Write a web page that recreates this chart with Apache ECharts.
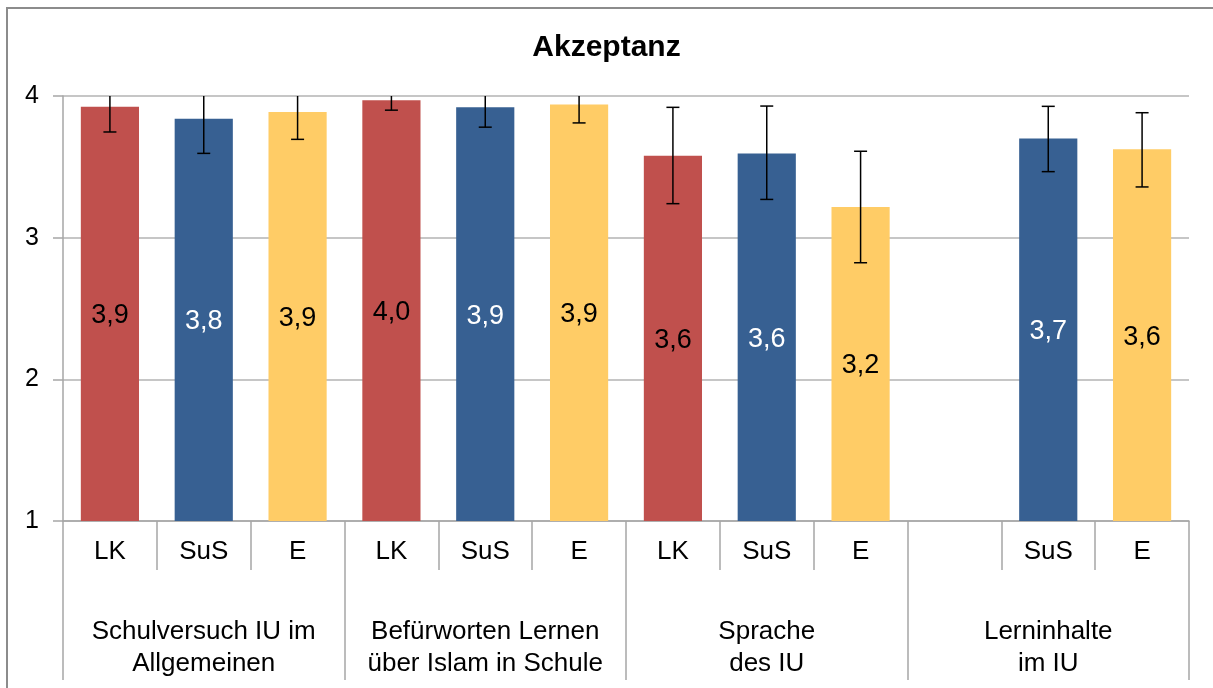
<!DOCTYPE html>
<html>
<head>
<meta charset="utf-8">
<script src="https://cdn.jsdelivr.net/npm/echarts@6/dist/echarts.min.js"></script>
<style>
html,body{margin:0;padding:0;background:#fff;}
#chart{width:1213px;height:688px;}
</style>
</head>
<body>
<div id="chart"></div>
<script>
// ---- data ----
var categories = ['LK','SuS','E','LK','SuS','E','LK','SuS','E','','SuS','E'];
var groups = ['Schulversuch IU im\nAllgemeinen', 'Befürworten Lernen\nüber Islam in Schule', 'Sprache\ndes IU', 'Lerninhalte\nim IU'];
var values  = [3.925, 3.84, 3.887, 3.97, 3.92, 3.94, 3.579, 3.595, 3.217, null, 3.70, 3.624];
var errLow  = [3.746, 3.595, 3.694, 3.90, 3.78, 3.81, 3.24, 3.27, 2.823, null, 3.466, 3.358];
var errHigh = [4.10, 4.085, 4.08, 4.04, 4.06, 4.07, 3.92, 3.929, 3.61, null, 3.927, 3.882];
var yTicks = [1, 2, 3, 4];

// ---- styles ----
var FONT = '"Liberation Sans", Arial, sans-serif';
var fillByRole = {LK: '#C0504D', SuS: '#376092', E: '#FFCC66'};
var labelByRole = {LK: '#000000', SuS: '#FFFFFF', E: '#000000'};
var YMIN = yTicks[0], YMAX = yTicks[yTicks.length - 1];

var barData = values.map(function (v, i) {
  var role = categories[i];
  return {
    value: v,
    itemStyle: {color: fillByRole[role] || '#999'},
    label: {color: labelByRole[role] || '#000'}
  };
});
var errData = values.map(function (v, i) {
  return [i, errLow[i], errHigh[i]];
});

var chart = echarts.init(document.getElementById('chart'), null, {renderer: 'canvas'});
chart.setOption({
  animation: false,
  backgroundColor: '#fff',
  title: {
    text: 'Akzeptanz', left: 'center', top: 28,
    textStyle: {fontFamily: FONT, fontSize: 30, fontWeight: 'bold', color: '#000'}
  },
  graphic: [{
    type: 'rect', z: 100, silent: true,
    shape: {x: 7, y: 8, width: 1230, height: 700},
    style: {fill: 'none', stroke: '#8C8C8C', lineWidth: 2}
  }],
  grid: {left: 63, right: 24, top: 96, bottom: 167, containLabel: false},
  xAxis: [{
    type: 'category', data: categories, position: 'bottom',
    axisLine: {show: true, lineStyle: {color: '#A6A6A6', width: 1.5}},
    axisTick: {show: true, interval: 0, length: 49, lineStyle: {color: '#A6A6A6', width: 1.5}},
    axisLabel: {interval: 0, margin: 18, fontFamily: FONT, fontSize: 26, color: '#000'}
  }, {
    type: 'category', data: groups, position: 'bottom',
    axisLine: {show: false},
    axisTick: {show: true, interval: 0, length: 159, lineStyle: {color: '#A6A6A6', width: 1.5}},
    axisLabel: {interval: 0, margin: 95, fontFamily: FONT, fontSize: 26, lineHeight: 32, color: '#000'}
  }],
  yAxis: {
    type: 'value', min: YMIN, max: YMAX, interval: 1,
    axisLine: {show: true, lineStyle: {color: '#A6A6A6', width: 1.5}},
    axisTick: {show: true, length: 10, lineStyle: {color: '#A6A6A6', width: 1.5}},
    axisLabel: {margin: 24, fontFamily: FONT, fontSize: 25, color: '#000'},
    splitLine: {show: true, lineStyle: {color: '#B3B3B3', width: 1.5}}
  },
  series: [{
    type: 'bar', xAxisIndex: 0, data: barData, barWidth: '62%',
    label: {
      show: true, position: 'inside', offset: [0, 2], fontFamily: FONT, fontSize: 27,
      formatter: function (p) { return p.value == null ? '' : p.value.toFixed(1).replace('.', ','); }
    }
  }, {
    type: 'custom', xAxisIndex: 0, data: errData, z: 10,
    renderItem: function (params, api) {
      var lo = api.value(1), hi = api.value(2);
      if (isNaN(lo) || isNaN(hi)) return;
      var clipped = hi > YMAX;
      var top = api.coord([api.value(0), Math.min(hi, YMAX)]);
      var bot = api.coord([api.value(0), lo]);
      var hw = 6.5;
      var st = {stroke: '#000', lineWidth: 1.5};
      var children = [
        {type: 'line', shape: {x1: top[0], y1: top[1], x2: bot[0], y2: bot[1]}, style: st},
        {type: 'line', shape: {x1: bot[0] - hw, y1: bot[1], x2: bot[0] + hw, y2: bot[1]}, style: st}
      ];
      if (!clipped) {
        children.push({type: 'line', shape: {x1: top[0] - hw, y1: top[1], x2: top[0] + hw, y2: top[1]}, style: st});
      }
      return {type: 'group', children: children};
    }
  }]
});
</script>
</body>
</html>
